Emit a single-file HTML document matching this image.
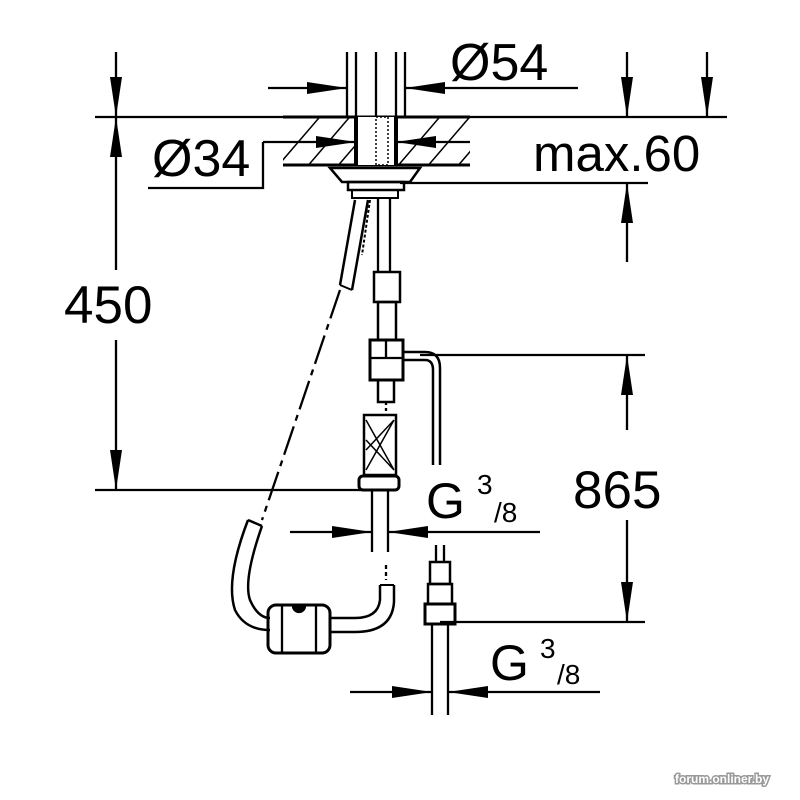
<!DOCTYPE html>
<html><head><meta charset="utf-8"><style>
html,body{margin:0;padding:0;background:#fff}
svg{display:block}
text{font-family:"Liberation Sans",sans-serif;fill:#000}
</style></head><body>
<svg width="800" height="800" viewBox="0 0 800 800" xmlns="http://www.w3.org/2000/svg">
<defs>
<marker id="a" viewBox="0 0 40 12" refX="40" refY="6" markerWidth="40" markerHeight="12" markerUnits="userSpaceOnUse" orient="auto"><path d="M0,0 L40,6 L0,12 Z" fill="#000"/></marker>
<clipPath id="ct"><rect x="283" y="117" width="187" height="48"/></clipPath>
</defs>
<g stroke="#000" stroke-width="2.3" fill="none">
<line x1="95" y1="117" x2="727" y2="117"/>
<line x1="116" y1="52" x2="116" y2="117" marker-end="url(#a)"/>
<line x1="116" y1="270" x2="116" y2="117" marker-end="url(#a)"/>
<line x1="116" y1="340" x2="116" y2="490" marker-end="url(#a)"/>
<line x1="95" y1="490" x2="372" y2="490"/>
<line x1="627" y1="52" x2="627" y2="117" marker-end="url(#a)"/>
<line x1="707" y1="52" x2="707" y2="117" marker-end="url(#a)"/>
<line x1="627" y1="262" x2="627" y2="183" marker-end="url(#a)"/>
<line x1="400" y1="183" x2="648" y2="183"/>
<line x1="268" y1="88" x2="347" y2="88" marker-end="url(#a)"/>
<line x1="578" y1="88" x2="405" y2="88" marker-end="url(#a)"/>
<line x1="347" y1="52" x2="347" y2="117"/>
<line x1="405" y1="52" x2="405" y2="117"/>
<line x1="356" y1="52" x2="356" y2="117"/>
<line x1="376" y1="52" x2="376" y2="117"/>
<line x1="396" y1="52" x2="396" y2="117"/>
<line x1="283" y1="117" x2="470" y2="117" stroke-width="3"/>
<line x1="283" y1="165" x2="470" y2="165" stroke-width="3"/>
<g clip-path="url(#ct)" stroke-width="1.5">
<path d="M270,175 L330,105 M300,175 L360,105 M330,175 L390,105 M390,175 L450,105 M420,175 L480,105 M450,175 L510,105"/>
</g>
<rect x="354" y="117" width="44" height="48" fill="#fff" stroke="none"/>
<line x1="356" y1="117" x2="356" y2="165" stroke-width="4"/>
<line x1="396" y1="117" x2="396" y2="165" stroke-width="4"/>
<rect x="376" y="117" width="12" height="48" stroke-width="1.5" stroke-dasharray="2 2"/>
<line x1="263" y1="142" x2="356" y2="142" marker-end="url(#a)"/>
<line x1="470" y1="142" x2="396" y2="142" marker-end="url(#a)"/>
<polyline points="263,142 263,188 148,188"/>
<path d="M330,168 L420,168 L410,182 L342,182 Z" stroke-width="2.5"/>
<rect x="348" y="182" width="56" height="8" stroke-width="2.5"/>
<rect x="352" y="190" width="46" height="8" stroke-width="2"/>
<path d="M355,200 L340,285 M368,200 L352,290" stroke-width="2.5"/>
<line x1="340" y1="285" x2="352" y2="290" stroke-width="2"/>
<path d="M370,200 L362,255" stroke-width="2" stroke-dasharray="3 2"/>
<line x1="340" y1="290" x2="262" y2="520" stroke-dasharray="30 6 6 6"/>
<line x1="378" y1="198" x2="378" y2="272"/>
<line x1="390" y1="198" x2="390" y2="272"/>
<rect x="374" y="272" width="26" height="30" stroke-width="2.5"/>
<rect x="378" y="302" width="18" height="38" stroke-width="2.5"/>
<rect x="370" y="340" width="33" height="40" stroke-width="3"/>
<line x1="370" y1="358" x2="403" y2="358"/>
<line x1="386" y1="340" x2="386" y2="358"/>
<path d="M403,352 L425,352 Q440,352 440,368 L440,465 M403,360 L425,360 Q433,360 433,370 L433,465" stroke-width="2.5"/>
<line x1="420" y1="355" x2="645" y2="355"/>
<rect x="378" y="380" width="16" height="22" stroke-width="2.5"/>
<line x1="386" y1="402" x2="386" y2="415" stroke-dasharray="3 3"/>
<rect x="364" y="415" width="32" height="60" stroke-width="2.5"/>
<path d="M366,420 L394,470 M394,420 L366,470 M366,440 L394,470 M366,450 L394,420" stroke-width="1.5"/>
<rect x="359" y="476" width="40" height="14" rx="4" stroke-width="3"/>
<line x1="372" y1="490" x2="372" y2="552"/>
<line x1="388" y1="490" x2="388" y2="552"/>
<line x1="386" y1="565" x2="386" y2="580" stroke-dasharray="4 3"/>
<line x1="290" y1="532" x2="372" y2="532" marker-end="url(#a)"/>
<line x1="540" y1="532" x2="388" y2="532" marker-end="url(#a)"/>
<path d="M248,520 Q225,580 235,610 Q245,630 270,630 M262,526 Q243,580 250,600 Q258,618 270,618" stroke-width="2.5"/>
<line x1="248" y1="520" x2="262" y2="526" stroke-width="2.5"/>
<path d="M380,585 L380,600 Q378,618 355,618 L330,618 M394,585 L394,602 Q392,632 355,632 L330,632" stroke-width="2.5"/>
<line x1="380" y1="585" x2="394" y2="585" stroke-width="2"/>
<rect x="268" y="605" width="62" height="48" rx="8" stroke-width="3"/>
<line x1="282" y1="606" x2="282" y2="652"/>
<line x1="316" y1="606" x2="316" y2="652"/>
<path d="M293,606 A6,6 0 0 0 305,606 Z" fill="#000"/>
<line x1="627" y1="430" x2="627" y2="355" marker-end="url(#a)"/>
<line x1="627" y1="520" x2="627" y2="622" marker-end="url(#a)"/>
<line x1="440" y1="622" x2="645" y2="622"/>
<line x1="436" y1="545" x2="436" y2="562"/>
<line x1="444" y1="545" x2="444" y2="562"/>
<rect x="430" y="562" width="20" height="22" stroke-width="2.5"/>
<rect x="428" y="584" width="24" height="20" stroke-width="2.5"/>
<rect x="425" y="604" width="30" height="20" stroke-width="3"/>
<line x1="432" y1="624" x2="432" y2="715"/>
<line x1="448" y1="624" x2="448" y2="715"/>
<line x1="350" y1="692" x2="432" y2="692" marker-end="url(#a)"/>
<line x1="600" y1="692" x2="448" y2="692" marker-end="url(#a)"/>
</g>
<rect x="0" y="0" width="800" height="52" fill="#fff"/>
<rect x="445" y="52" width="125" height="32" fill="#fff"/>
<text x="450" y="80" font-size="52">Ø54</text>
<rect x="150" y="135" width="110" height="45" fill="#fff"/>
<text x="152" y="176" font-size="52">Ø34</text>
<text x="533" y="171" font-size="51">max.60</text>
<text x="64" y="323" font-size="53">450</text>
<text x="573" y="508" font-size="53">865</text>
<text x="426" y="518" font-size="50">G</text>
<text x="477" y="494" font-size="28">3</text>
<text x="494" y="522" font-size="28">/8</text>
<text x="490" y="680" font-size="50">G</text>
<text x="540" y="658" font-size="28">3</text>
<text x="557" y="684" font-size="28">/8</text>
<text x="675" y="783" font-size="12" font-weight="bold" style="fill:#fff;paint-order:stroke;stroke:#999;stroke-width:3px">forum.onliner.by</text>
</svg>
</body></html>
